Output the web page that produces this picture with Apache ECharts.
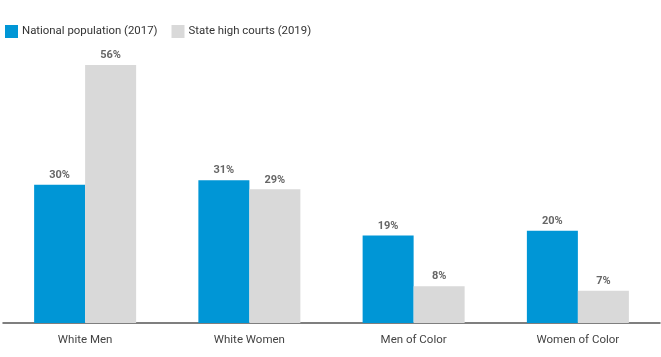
<!DOCTYPE html>
<html><head><meta charset="utf-8">
<script src="https://cdn.jsdelivr.net/npm/echarts@6/dist/echarts.min.js"></script>
<style>html,body{margin:0;padding:0;background:#fff}#c{width:661px;height:357px}</style>
</head><body><div id="c"></div>
<script>
const categories = ["White Men", "White Women", "Men of Color", "Women of Color"];
const national = [30, 31, 19, 20];
const courts = [56, 29, 8, 7];
const seriesNames = ["National population (2017)", "State high courts (2019)"];

const chart = echarts.init(document.getElementById('c'));
const lbl = {show: true, position: 'top', formatter: '{c}%', color: '#666', fontWeight: 'bold', fontSize: 11, fontFamily: 'Roboto', distance: 4};
chart.setOption({
  animation: false,
  textStyle: {fontFamily: 'Roboto'},
  legend: {
    left: 0, top: 20, itemWidth: 13, itemHeight: 13, itemGap: 14,
    icon: 'rect',
    textStyle: {fontSize: 11.4, color: '#333', fontFamily: 'Roboto', padding: [0,0,0,-1]},
    data: seriesNames
  },
  grid: {left: 3, right: 1, top: 46.5, bottom: 34, containLabel: false},
  xAxis: {
    type: 'category', data: categories,
    axisLine: {lineStyle: {color: '#555', width: 1.5}},
    axisTick: {show: false},
    axisLabel: {color: '#444', fontSize: 11.5, margin: 11, fontFamily: 'Roboto'}
  },
  yAxis: {type: 'value', min: 0, max: 60, show: false, splitLine: {show: false}},
  series: [
    {name: seriesNames[0], type: 'bar', data: national, barWidth: 51, barGap: '0%', itemStyle: {color: '#0096D6'}, label: lbl},
    {name: seriesNames[1], type: 'bar', data: courts, barWidth: 51, itemStyle: {color: '#D9D9D9'}, label: lbl}
  ]
});
</script></body></html>
